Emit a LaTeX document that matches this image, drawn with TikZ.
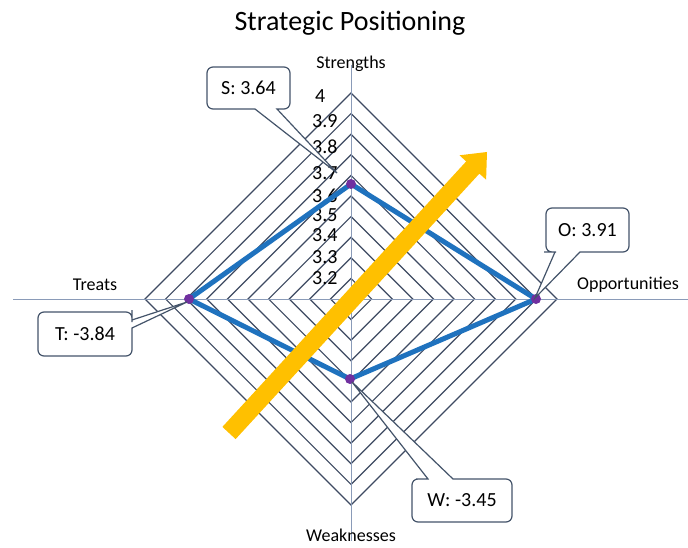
\documentclass[tikz,border=0pt]{standalone}
\usepackage{fontspec}
\setmainfont{Carlito}
\usetikzlibrary{calc}
\definecolor{ringc}{HTML}{3E4A62}
\definecolor{axisc}{HTML}{8A9BB8}
\definecolor{serc}{HTML}{1F72BE}
\definecolor{markc}{HTML}{7030A0}
\definecolor{goldc}{HTML}{FFC000}
\definecolor{boxc}{HTML}{44546A}
\tikzset{
  ring/.style={draw=ringc, line width=1.2pt},
  axisline/.style={draw=axisc, line width=1pt},
  series/.style={draw=serc, line width=5pt, line join=round},
  marker/.style={fill=markc},
  co/.style={draw=boxc, line width=1.2pt, fill=white, line join=miter},
  cotext/.style={font=\fontsize{20}{22}\selectfont, inner sep=0pt},
  tick/.style={font=\fontsize{20}{22}\selectfont, anchor=west, inner sep=0pt},
  axname/.style={font=\fontsize{18}{20}\selectfont, inner sep=0pt},
}
\begin{document}
\begin{tikzpicture}[x=1pt, y=-1pt]
\useasboundingbox[fill=white] (0,0) rectangle (688,548);
\coordinate (c) at (351,299);
% title
\node[font=\fontsize{28}{30}\selectfont, inner sep=0pt] (title) at (350,23) {Strategic Positioning};
% rings
\foreach \k in {1,...,10}{
  \pgfmathsetmacro{\r}{20.6*\k}
  \draw[ring] ($(c)+(0,-\r)$) -- ($(c)+(\r,0)$) -- ($(c)+(0,\r)$) -- ($(c)+(-\r,0)$) -- cycle;
}
% axes
\coordinate (axL) at (13,299);
\coordinate (axR) at (688,299);
\coordinate (axT) at (351,65);
\coordinate (axB) at (351,541);
\draw[axisline] (axL) -- (axR);
\draw[axisline] (axT) -- (axB);
% axis names
\node[axname] (nS) at (351,64) {Strengths};
\node[axname] (nW) at (351,535) {Weaknesses};
\node[axname] (nT) at (95,285) {Treats};
\node[axname] (nO) at (628,285) {Opportunities};
% tick labels
\node[tick] (t40) at (315,96) {4};
\node[tick] (t39) at (312,121.5) {3.9};
\node[tick] (t38) at (312,147) {3.8};
\node[tick] (t37) at (312,173) {3.7};
\node[tick] (t36) at (312,196) {3.6};
\node[tick] (t35) at (312,215) {3.5};
\node[tick] (t34) at (312,235) {3.4};
\node[tick] (t33) at (312,257) {3.3};
\node[tick] (t32) at (312,278) {3.2};
% data series
\coordinate (pS) at (351,184);
\coordinate (pO) at (536,299);
\coordinate (pW) at (350,379);
\coordinate (pT) at (189,299);
\draw[series] (pS) -- (pO) -- (pW) -- (pT) -- cycle;
\foreach \p in {pS,pO,pW,pT}{\fill[marker] (\p) circle (5pt);}
% yellow arrow
\coordinate (aB) at (222.4,426.9);
\coordinate (aC) at (466.2,161.4);
\coordinate (aD) at (459.5,155.3);
\coordinate (aE) at (487,152);
\coordinate (aF) at (486.1,179.7);
\coordinate (aG) at (479.4,173.6);
\coordinate (aA) at (235.6,439.1);
\fill[goldc] (aB) -- (aC) -- (aD) -- (aE) -- (aF) -- (aG) -- (aA) -- cycle;
% callout S
\draw[co] (255,109) -- (337,173) -- (277,109) -- (283,109) [rounded corners=6pt] -- (290,109) -- (290,67) -- (207,67) -- (207,109) -- (249,109) [sharp corners] -- cycle;
\node[cotext] (cS) at (248.5,88) {S: 3.64};
% callout O
\draw[co] (555,252) -- (535,298) -- (580,252) -- (590,252) [rounded corners=6pt] -- (629,252) -- (629,208) -- (546,208) -- (546,252) -- (550,252) [sharp corners] -- cycle;
\node[cotext] (cO) at (587.5,230) {O: 3.91};
% callout T
\draw[co] (132,320) -- (187,302) -- (132,328) -- (132,335) [rounded corners=6pt] -- (132,356) -- (38,356) -- (38,312) -- (132,312) -- (132,316) [sharp corners] -- cycle;
\node[cotext] (cT) at (85,334) {T: -3.84};
% callout W
\draw[co] (428,479) -- (352,382) -- (453,479) -- (460,479) [rounded corners=6pt] -- (512,479) -- (512,522) -- (412,522) -- (412,479) -- (422,479) [sharp corners] -- cycle;
\node[cotext] (cW) at (462,500.5) {W: -3.45};
\end{tikzpicture}
\end{document}
